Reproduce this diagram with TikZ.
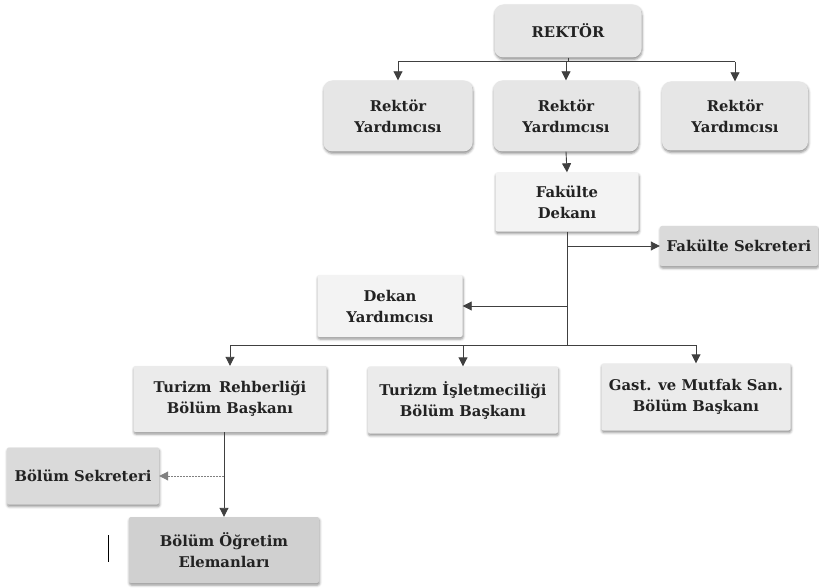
\documentclass[tikz,border=0pt]{standalone}
\usepackage{fontspec}
\setmainfont{DejaVu Serif}
\usetikzlibrary{arrows.meta,shadows.blur}
\definecolor{txt}{HTML}{222222}
\definecolor{ln}{HTML}{404040}
\definecolor{boxA}{HTML}{E6E6E6}
\definecolor{boxB}{HTML}{F3F3F3}
\definecolor{boxC}{HTML}{EBEBEB}
\definecolor{boxD}{HTML}{DADADA}
\definecolor{boxE}{HTML}{D0D0D0}
\begin{document}
\begin{tikzpicture}[x=1pt,y=-1pt,
  box/.style={font=\bfseries\fontsize{14.8}{21}\selectfont, text=txt, align=center, inner sep=0pt,
    blur shadow={shadow xshift=0.5pt,shadow yshift=-2pt,shadow blur radius=2.5pt,shadow opacity=45}},
  rbox/.style={box, rounded corners=9pt, fill=boxA},
  lbox/.style={box, rounded corners=2pt, fill=boxB},
  mbox/.style={box, rounded corners=2pt, fill=boxC},
  gbox/.style={box, rounded corners=2pt, fill=boxD},
  dbox/.style={box, rounded corners=2pt, fill=boxE},
  conn/.style={draw=ln, line width=0.9pt},
  arr/.style={conn, -{Triangle[length=9pt,width=9pt]}}
]
\useasboundingbox (0,0) rectangle (819,588);

\node[rbox, minimum width=147pt, minimum height=53pt] (rek) at (568,31) {REKTÖR};
\node[rbox, minimum width=149pt, minimum height=71pt] (ry1) at (398,116) {Rektör\\Yardımcısı};
\node[rbox, minimum width=145pt, minimum height=71pt] (ry2) at (566,116) {Rektör\\Yardımcısı};
\node[rbox, minimum width=146pt, minimum height=69pt] (ry3) at (735,116) {Rektör\\Yardımcısı};

\node[lbox, minimum width=143pt, minimum height=59pt] (fd) at (567,202) {Fakülte\\Dekanı};
\node[gbox, minimum width=158pt, minimum height=40pt] (fs) at (739,246) {Fakülte Sekreteri};
\node[lbox, minimum width=145pt, minimum height=62pt] (dy) at (390,306) {Dekan\\Yardımcısı};

\node[mbox, minimum width=193pt, minimum height=66pt] (tr) at (230,399) {Turizm\enspace Rehberliği\\Bölüm Başkanı};
\node[mbox, minimum width=190pt, minimum height=67pt] (ti) at (463,400) {Turizm \.Işletmeciliği\\Bölüm Başkanı};
\node[mbox, minimum width=189pt, minimum height=67pt] (gm) at (696,397) {Gast. ve Mutfak San.\\Bölüm Başkanı};

\node[gbox, minimum width=152pt, minimum height=57pt] (bs) at (83,476) {Bölüm Sekreteri};
\node[dbox, minimum width=190pt, minimum height=66pt] (bo) at (224,550) {Bölüm Öğretim\\Elemanları};

% top bus
\draw[conn] (rek.south) -- ++(0,4) coordinate (b1);
\draw[conn] (b1 -| ry1.north) -- (b1 -| ry3.north);
\draw[arr] (b1 -| ry1.north) -- (ry1.north);
\draw[arr] (b1 -| ry2.north) -- (ry2.north);
\draw[arr] (b1 -| ry3.north) -- (ry3.north);

\draw[arr] (ry2.south) -- (fd.north);

% faculty trunk
\coordinate (b2) at (567,345);
\draw[conn] (fd.south) -- (fd.south |- b2);
\draw[arr] (fd.south |- fs.west) -- (fs.west);
\draw[arr] (fd.south |- dy.east) -- (dy.east);
\draw[conn] (b2 -| tr.north) -- (b2 -| gm.north);
\draw[arr] (b2 -| tr.north) -- (tr.north);
\draw[arr] (b2 -| ti.north) -- (ti.north);
\draw[arr] (b2 -| gm.north) -- (gm.north);

% department
\draw[arr] (bo.north |- tr.south) -- (bo.north);
\draw[arr, draw=gray, dash pattern=on 2pt off 1pt] (bo.north |- bs.east) -- (bs.east);

% stray mark
\coordinate (m1) at (108,535);
\coordinate (m2) at (108,562);
\draw[draw=black, line width=1pt] (m1) -- (m2);
\end{tikzpicture}
\end{document}
